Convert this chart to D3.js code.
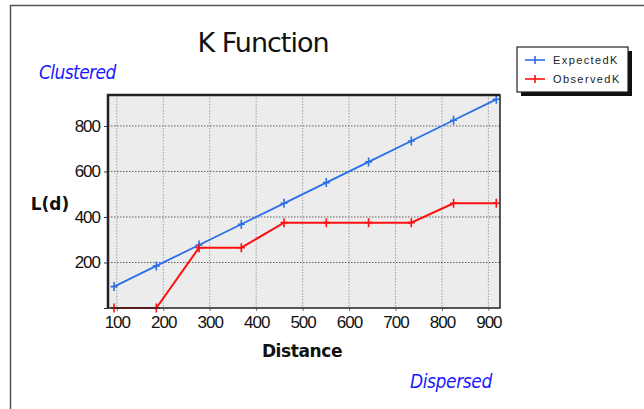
<!DOCTYPE html>
<html>
<head>
<meta charset="utf-8">
<script src="https://cdn.jsdelivr.net/npm/d3@7"></script>
<style>
body { margin: 0; background: #fff; }
svg { display: block; }
</style>
</head>
<body>
<svg width="644" height="409"></svg>
<script>
// Данные
const distances = [94, 185, 277, 368, 460, 551, 642, 734, 825, 917];
const expectedK = [94, 185, 277, 368, 460, 551, 642, 734, 825, 917];
const observedK = [0, 0, 265, 265, 375, 375, 375, 375, 460, 460];
const xTicks = [100, 200, 300, 400, 500, 600, 700, 800, 900];
const yTicks = [200, 400, 600, 800];
const seriesNames = ["ExpectedK", "ObservedK"];
const seriesColors = ["#2a6fe8", "#ff1010"];

const svg = d3.select("svg");

// рамка
svg.append("path")
	.attr("d", "M10.5,409 V5.5 H644")
	.attr("fill", "none")
	.attr("stroke", "#555")
	.attr("stroke-width", 1.5);

const plot = { left: 108, right: 500, top: 95, bottom: 308 };

// Шкалы
const x = d3.scaleLinear().domain([81, 925]).range([plot.left, plot.right]);
const y = d3.scaleLinear().domain([0, 936]).range([plot.bottom, plot.top]);

svg.append("rect")
	.attr("x", plot.left).attr("y", plot.top)
	.attr("width", plot.right - plot.left).attr("height", plot.bottom - plot.top)
	.attr("fill", "#ececec");

// сетка
svg.append("g")
	.selectAll("line")
	.data(xTicks)
	.join("line")
	.attr("x1", d => x(d)).attr("x2", d => x(d))
	.attr("y1", plot.top).attr("y2", plot.bottom)
	.attr("stroke", "#a0a0a0").attr("stroke-dasharray", "1.5,1.5");

svg.append("g")
	.selectAll("line")
	.data(yTicks)
	.join("line")
	.attr("x1", plot.left).attr("x2", plot.right)
	.attr("y1", d => y(d)).attr("y2", d => y(d))
	.attr("stroke", "#606060").attr("stroke-dasharray", "1.5,1.5");

// Оси
const tickText = g => g.selectAll("text")
	.attr("font-family", "Liberation Sans, sans-serif")
	.attr("font-size", 17)
	.attr("letter-spacing", -1)
	.attr("fill", "#111");

const xAxis = g => g
	.attr("transform", `translate(0,${plot.bottom})`)
	.call(d3.axisBottom(x).tickValues(xTicks).tickSize(3).tickPadding(5))
	.call(g => g.select(".domain").remove())
	.call(g => g.selectAll("line").attr("stroke", "#777"))
	.call(tickText);

const yAxis = g => g
	.attr("transform", `translate(${plot.left},0)`)
	.call(d3.axisLeft(y).tickValues([0, ...yTicks]).tickSize(4).tickPadding(4)
		.tickFormat(d => d === 0 ? "" : d))
	.call(g => g.select(".domain").remove())
	.call(g => g.selectAll("line").attr("stroke", "#333"))
	.call(tickText);

svg.append("g").call(xAxis);
svg.append("g").call(yAxis);

// Линии
const series = [expectedK, observedK];
const line = d3.line()
	.x((d, i) => x(distances[i]))
	.y(d => y(d));

series.forEach((vals, s) => {
	svg.append("path")
		.datum(vals)
		.attr("d", line)
		.attr("fill", "none")
		.attr("stroke", seriesColors[s])
		.attr("stroke-width", s === 0 ? 1.8 : 2);

	svg.append("g")
		.selectAll("path")
		.data(vals)
		.join("path")
		.attr("d", (d, i) => {
			const cx = x(distances[i]), cy = y(d);
			return `M${cx - 3.5},${cy} H${cx + 3.5} M${cx},${cy - 4.5} V${cy + 4.5}`;
		})
		.attr("stroke", seriesColors[s])
		.attr("stroke-width", 1.6);
});

// рамка графика
svg.append("rect")
	.attr("x", plot.left).attr("y", plot.top)
	.attr("width", plot.right - plot.left).attr("height", plot.bottom - plot.top)
	.attr("fill", "none")
	.attr("stroke", "#222")
	.attr("stroke-width", 1.5);
svg.append("path")
	.attr("d", `M${plot.left},${plot.bottom} V${plot.top} H${plot.right}`)
	.attr("fill", "none").attr("stroke", "#222").attr("stroke-width", 2.5);

// Подписи
svg.append("text")
	.attr("x", 263).attr("y", 52)
	.attr("text-anchor", "middle")
	.attr("font-family", "DejaVu Sans, sans-serif")
	.attr("font-size", 27)
	.attr("letter-spacing", -1)
	.attr("fill", "#111")
	.text("K Function");

svg.append("text")
	.attr("x", 50).attr("y", 210)
	.attr("text-anchor", "middle")
	.attr("font-family", "DejaVu Sans, sans-serif")
	.attr("font-weight", "bold")
	.attr("font-size", 17)
	.attr("fill", "#111")
	.text("L(d)");

svg.append("text")
	.attr("x", 302).attr("y", 357)
	.attr("text-anchor", "middle")
	.attr("font-family", "DejaVu Sans, sans-serif")
	.attr("font-weight", "bold")
	.attr("font-size", 17)
	.attr("letter-spacing", -0.4)
	.attr("fill", "#111")
	.text("Distance");

svg.append("text")
	.attr("x", 39).attr("y", 79)
	.attr("font-family", "DejaVu Sans Condensed, DejaVu Sans, sans-serif")
	.attr("font-style", "italic")
	.attr("font-size", 19)
	.attr("letter-spacing", -0.6)
	.attr("fill", "#1a1aff")
	.text("Clustered");

svg.append("text")
	.attr("x", 410).attr("y", 388)
	.attr("font-family", "DejaVu Sans Condensed, DejaVu Sans, sans-serif")
	.attr("font-style", "italic")
	.attr("font-size", 19)
	.attr("letter-spacing", -0.4)
	.attr("fill", "#1a1aff")
	.text("Dispersed");

// Легенда
const lg = svg.append("g").attr("transform", "translate(517,47)");
lg.append("rect")
	.attr("x", 4).attr("y", 4).attr("width", 111).attr("height", 45)
	.attr("fill", "#111");
lg.append("rect")
	.attr("x", 0).attr("y", 0).attr("width", 111).attr("height", 45)
	.attr("fill", "#fff").attr("stroke", "#222").attr("stroke-width", 1.2);

const item = lg.selectAll("g.item")
	.data(seriesNames)
	.join("g")
	.attr("class", "item")
	.attr("transform", (d, i) => `translate(0,${13 + i * 19})`);

item.append("line")
	.attr("x1", 8).attr("x2", 28)
	.attr("stroke", (d, i) => seriesColors[i]).attr("stroke-width", 1.6);
item.append("line")
	.attr("x1", 18).attr("x2", 18).attr("y1", -4).attr("y2", 4)
	.attr("stroke", (d, i) => seriesColors[i]).attr("stroke-width", 1.6);
item.append("text")
	.attr("x", 36).attr("y", 0).attr("dy", "0.35em")
	.attr("font-family", "Liberation Sans, sans-serif")
	.attr("font-size", 11)
	.attr("letter-spacing", 1.4)
	.attr("fill", "#222")
	.text(d => d);
</script>
</body>
</html>
